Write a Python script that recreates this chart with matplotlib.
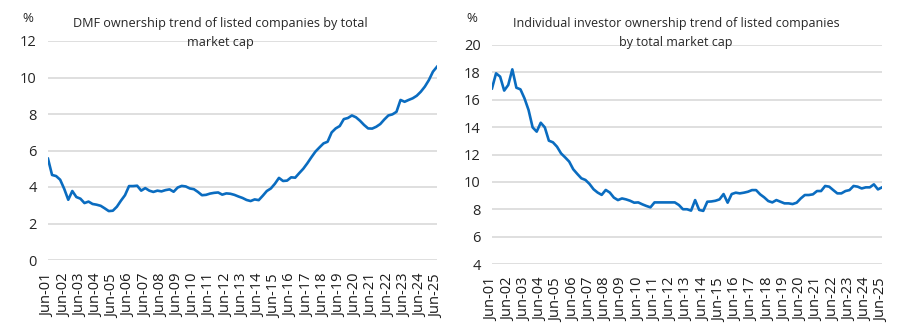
import matplotlib
matplotlib.use('Agg')
from matplotlib import pyplot

# quarterly observations, Jun-01 .. Jun-25
year_labels = ['Jun-%02d' % y for y in range(1, 26)]

dmf_pct = [5.55, 4.66, 4.6, 4.4, 3.9, 3.3, 3.78, 3.45, 3.36, 3.12, 3.2, 3.07, 3.03, 2.97, 2.83, 2.68,
           2.7, 2.92, 3.25, 3.55, 4.05, 4.05, 4.07, 3.8, 3.94, 3.8, 3.73, 3.8, 3.76, 3.83, 3.87, 3.74,
           3.97, 4.06, 4.03, 3.92, 3.88, 3.73, 3.55, 3.57, 3.64, 3.68, 3.7, 3.58, 3.65, 3.63, 3.57, 3.48,
           3.4, 3.29, 3.23, 3.32, 3.28, 3.52, 3.78, 3.92, 4.18, 4.5, 4.33, 4.35, 4.53, 4.51, 4.76, 5.0,
           5.3, 5.63, 5.94, 6.17, 6.39, 6.48, 6.99, 7.21, 7.34, 7.72, 7.78, 7.92, 7.82, 7.63, 7.4, 7.21,
           7.2, 7.3, 7.45, 7.7, 7.92, 7.98, 8.12, 8.77, 8.67, 8.77, 8.86, 9.0, 9.22, 9.5, 9.86, 10.32,
           10.59]

individual_pct = [16.83, 17.93, 17.69, 16.67, 17.08, 18.22, 16.88, 16.76, 16.1, 15.25, 13.98, 13.67,
                  14.32, 13.98, 13.01, 12.89, 12.57, 12.08, 11.79, 11.48, 10.92, 10.58, 10.26, 10.14,
                  9.85, 9.46, 9.22, 9.05, 9.41, 9.22, 8.85, 8.67, 8.79, 8.72, 8.62, 8.48, 8.5, 8.36,
                  8.24, 8.14, 8.5, 8.5, 8.5, 8.5, 8.5, 8.5, 8.31, 8.0, 8.0, 7.9, 8.67, 7.95, 7.88, 8.55,
                  8.57, 8.62, 8.72, 9.11, 8.48, 9.11, 9.21, 9.16, 9.21, 9.28, 9.4, 9.4, 9.09, 8.87, 8.6,
                  8.5, 8.67, 8.55, 8.43, 8.43, 8.38, 8.48, 8.79, 9.04, 9.04, 9.09, 9.33, 9.33, 9.7, 9.65,
                  9.4, 9.16, 9.16, 9.33, 9.4, 9.7, 9.65, 9.52, 9.6, 9.6, 9.82, 9.45, 9.6]

dmf_title = 'DMF ownership trend of listed companies by total\nmarket cap'
individual_title = 'Individual investor ownership trend of listed companies\nby total market cap'

pyplot.rcParams['font.family'] = ['Open Sans', 'DejaVu Sans']
line_color = '#0a6cc0'
text_color = '#262626'

fig = pyplot.figure(figsize=(9.03, 3.31), dpi=100)
ax1 = fig.add_axes([48 / 903, 71 / 331, 389 / 903, 219 / 331])
ax2 = fig.add_axes([492 / 903, 67 / 331, 390 / 903, 219 / 331])


def style_axis(ax, values, ylim, yticks):
    x = list(range(len(values)))
    ax.plot(x, values, color=line_color, lw=1.9, solid_joinstyle='round', zorder=3)
    ax.set_xlim(0, len(values) - 1)
    ax.set_ylim(*ylim)
    ax.set_yticks(yticks)
    ax.set_xticks(x[::4])
    ax.set_xticklabels(year_labels, rotation=90, color='#1a1a1a')
    ax.grid(axis='y', color='#d9d9d9', lw=1.2)
    ax.set_axisbelow(True)
    for s in ax.spines.values():
        s.set_visible(False)
    ax.tick_params(axis='both', length=0)
    ax.tick_params(axis='y', labelsize=10.5, pad=8, labelcolor=text_color)
    ax.tick_params(axis='x', labelsize=10.5, pad=10)


style_axis(ax1, dmf_pct, (0, 12), range(0, 13, 2))
style_axis(ax2, individual_pct, (4, 20), range(4, 21, 2))

fig.text(220 / 903, 1 - 33 / 331, dmf_title, ha='center', va='center', fontsize=9.1,
         color=text_color, linespacing=1.55)
fig.text(676 / 903, 1 - 33 / 331, individual_title, ha='center', va='center', fontsize=9.0,
         color=text_color, linespacing=1.55)
fig.text(28 / 903, 1 - 19 / 331, '%', ha='center', va='center', fontsize=9.5, color=text_color)
fig.text(472 / 903, 1 - 19 / 331, '%', ha='center', va='center', fontsize=9.5, color=text_color)

fig.savefig('out.png', dpi=100)
